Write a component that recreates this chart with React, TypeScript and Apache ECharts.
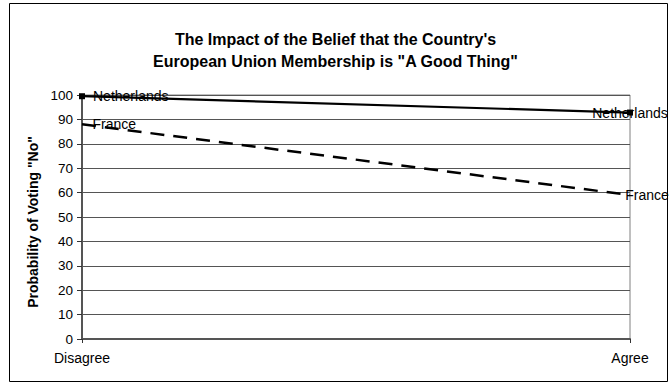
import React, { useEffect, useRef } from "react";
import * as echarts from "echarts";

// Agreement levels on the horizontal axis
const categories = ["Disagree", "Agree"];
// Predicted probability of voting "No" (%)
const netherlands = [99.5, 92.8];
const france = [88, 59];
// Y-axis ticks
const yMin = 0;
const yMax = 100;
const yStep = 10;

const FONT = "'Liberation Sans', Arial, sans-serif";

export default function App() {
  const ref = useRef<HTMLDivElement>(null);

  useEffect(() => {
    if (!ref.current) return;
    const chart = echarts.init(ref.current, undefined, { renderer: "svg" });
    chart.setOption({
      animation: false,
      backgroundColor: "#ffffff",
      textStyle: { fontFamily: FONT, color: "#000" },
      title: {
        text: "The Impact of the Belief that the Country's\nEuropean Union Membership is \"A Good Thing\"",
        left: "center",
        top: 23,
        textStyle: {
          fontFamily: FONT,
          fontSize: 16,
          fontWeight: "bold",
          color: "#000",
          lineHeight: 22,
        },
      },
      graphic: [
        {
          type: "rect",
          shape: { x: 9.5, y: 3.5, width: 658, height: 378 },
          style: { fill: "none", stroke: "#000", lineWidth: 1 },
          silent: true,
        },
      ],
      grid: {
        left: 82,
        right: 41,
        top: 95,
        bottom: 44,
        show: true,
        borderColor: "#808080",
        borderWidth: 1,
        backgroundColor: "transparent",
      },
      xAxis: {
        type: "category",
        data: categories,
        boundaryGap: false,
        axisLine: { lineStyle: { color: "#555", width: 2 } },
        axisTick: { show: true, length: 4, lineStyle: { color: "#333" } },
        axisLabel: { fontSize: 14, color: "#000", margin: 12, fontFamily: FONT },
        splitLine: { show: false },
      },
      yAxis: {
        type: "value",
        min: yMin,
        max: yMax,
        interval: yStep,
        name: "Probability of Voting \"No\"",
        nameLocation: "middle",
        nameGap: 42,
        nameRotate: 90,
        nameTextStyle: {
          fontSize: 14,
          fontWeight: "bold",
          color: "#000",
          fontFamily: FONT,
          padding: [0, 10, 0, 0],
        },
        axisLine: { show: true, lineStyle: { color: "#555", width: 2 } },
        axisTick: { show: true, length: 5, inside: false, lineStyle: { color: "#333" } },
        axisLabel: { fontSize: 13.5, color: "#000", margin: 9, fontFamily: FONT },
        splitLine: { show: true, lineStyle: { color: "#555", width: 1 } },
      },
      series: [
        {
          name: "Netherlands",
          type: "line",
          data: [
            { value: netherlands[0], label: { position: "right", distance: 8 } },
            { value: netherlands[1], label: { position: "inside" } },
          ],
          symbol: "rect",
          symbolSize: 6,
          itemStyle: { color: "#000" },
          lineStyle: { color: "#000", width: 2.2, type: "solid" },
          label: {
            show: true,
            formatter: "Netherlands",
            fontSize: 14,
            color: "#000",
            fontFamily: FONT,
          },
          z: 3,
        },
        {
          name: "France",
          type: "line",
          data: [
            { value: france[0], label: { position: "right", distance: 10 } },
            { value: france[1], label: { position: "inside", offset: [17, 0] } },
          ],
          symbol: "circle",
          symbolSize: 1,
          itemStyle: { color: "transparent" },
          lineStyle: { color: "#000", width: 2.5, type: [14, 9] },
          label: {
            show: true,
            formatter: "France",
            fontSize: 14,
            color: "#000",
            fontFamily: FONT,
          },
          z: 3,
        },
      ],
    });
    return () => chart.dispose();
  }, []);

  return (
    <div
      ref={ref}
      style={{ position: "fixed", left: 0, top: 0, width: 671, height: 383 }}
    />
  );
}
